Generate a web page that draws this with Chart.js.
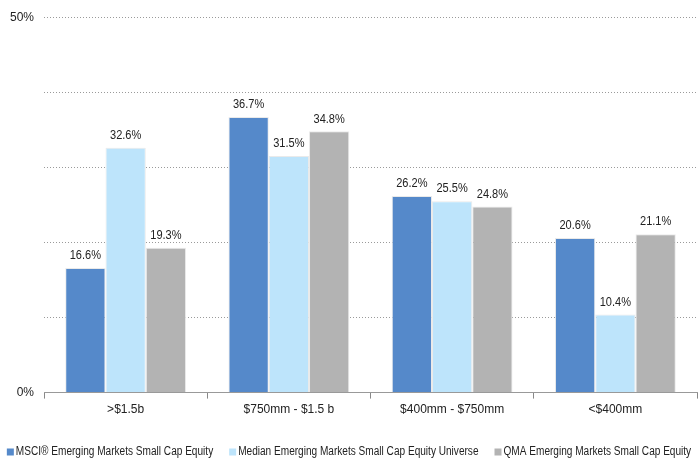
<!DOCTYPE html>
<html>
<head>
<meta charset="utf-8">
<script src="https://cdn.jsdelivr.net/npm/chart.js@4/dist/chart.umd.min.js"></script>
<style>
  html, body { margin: 0; padding: 0; background: #fff; }
  #wrap { width: 698px; height: 462px; position: relative; }
</style>
</head>
<body>
<div id="wrap"><canvas id="c" width="698" height="462"></canvas></div>
<script>
const categories = ['>$1.5b', '$750mm - $1.5 b', '$400mm - $750mm', '<$400mm'];
const seriesNames = [
  'MSCI\u00AE Emerging Markets Small Cap Equity',
  'Median Emerging Markets Small Cap Equity Universe',
  'QMA Emerging Markets Small Cap Equity'
];
const msciValues   = [16.6, 36.7, 26.2, 20.6];
const medianValues = [32.6, 31.5, 25.5, 10.4];
const qmaValues    = [19.3, 34.8, 24.8, 21.1];
const yTickLabels  = { 0: '0%', 50: '50%' };

const FONT = '"Liberation Sans", Arial, sans-serif';
const colors = ['#5589CA', '#BDE4FB', '#B3B3B3'];

// Writes each bar's value above it
const valueLabels = {
  id: 'valueLabels',
  afterDatasetsDraw(chart) {
    const ctx = chart.ctx;
    ctx.save();
    ctx.font = '12px ' + FONT;
    ctx.fillStyle = '#222';
    ctx.textAlign = 'center';
    ctx.textBaseline = 'bottom';
    chart.data.datasets.forEach((ds, i) => {
      chart.getDatasetMeta(i).data.forEach((bar, j) => {
        ctx.save();
        ctx.translate(bar.x, bar.y - 6);
        ctx.scale(0.92, 1);
        ctx.fillText(ds.data[j].toFixed(1) + '%', 0, 0);
        ctx.restore();
      });
    });
    ctx.restore();
  }
};

// Single-row condensed legend along the bottom edge
const condensedLegend = {
  id: 'condensedLegend',
  afterDraw(chart) {
    const ctx = chart.ctx;
    const squeeze = 0.84, box = 7, gapBoxText = 2, gapItems = 16;
    ctx.save();
    ctx.font = '12px ' + FONT;
    ctx.textBaseline = 'middle';
    ctx.textAlign = 'left';
    const items = chart.data.datasets.map(ds => ({
      text: ds.label,
      color: ds.backgroundColor,
      w: ctx.measureText(ds.label).width * squeeze
    }));
    const total = items.reduce((s, it) => s + box + gapBoxText + it.w, 0) + gapItems * (items.length - 1);
    let x = (chart.width - total) / 2;
    const y = chart.height - 10;
    items.forEach(it => {
      ctx.fillStyle = it.color;
      ctx.fillRect(x, y - box / 2, box, box);
      x += box + gapBoxText;
      ctx.save();
      ctx.translate(x, y);
      ctx.scale(squeeze, 1);
      ctx.fillStyle = '#222';
      ctx.fillText(it.text, 0, 0);
      ctx.restore();
      x += it.w + gapItems;
    });
    ctx.restore();
  }
};

const values = [msciValues, medianValues, qmaValues];
new Chart(document.getElementById('c'), {
  type: 'bar',
  data: {
    labels: categories,
    datasets: seriesNames.map((name, i) => ({
      label: name,
      data: values[i],
      backgroundColor: colors[i],
      borderColor: 'rgba(232,232,232,0.9)',
      borderWidth: { top: 1, left: 1, right: 1, bottom: 0 },
      borderSkipped: 'bottom',
      barPercentage: 1.0,
      categoryPercentage: 0.74
    }))
  },
  options: {
    responsive: false,
    animation: false,
    layout: { padding: { left: 0, right: 1, top: 6, bottom: 41 } },
    scales: {
      x: {
        grid: {
          offset: true,
          drawOnChartArea: false,
          drawTicks: true,
          tickLength: 6,
          color: '#888'
        },
        border: { display: true, color: '#999', width: 1 },
        ticks: {
          font: { family: FONT, size: 12 },
          color: '#222',
          padding: 4
        }
      },
      y: {
        min: 0,
        max: 50,
        ticks: {
          stepSize: 10,
          font: { family: FONT, size: 12 },
          color: '#222',
          padding: 10,
          callback: v => (yTickLabels[v] !== undefined ? yTickLabels[v] : '')
        },
        grid: {
          color: ctx => (ctx.tick && ctx.tick.value === 0 ? 'rgba(0,0,0,0)' : '#9a9a9a'),
          lineWidth: 1,
          drawTicks: false
        },
        border: { display: false, dash: [1, 2] }
      }
    },
    plugins: {
      legend: { display: false },
      tooltip: { enabled: false }
    }
  },
  plugins: [valueLabels, condensedLegend]
});
</script>
</body>
</html>
